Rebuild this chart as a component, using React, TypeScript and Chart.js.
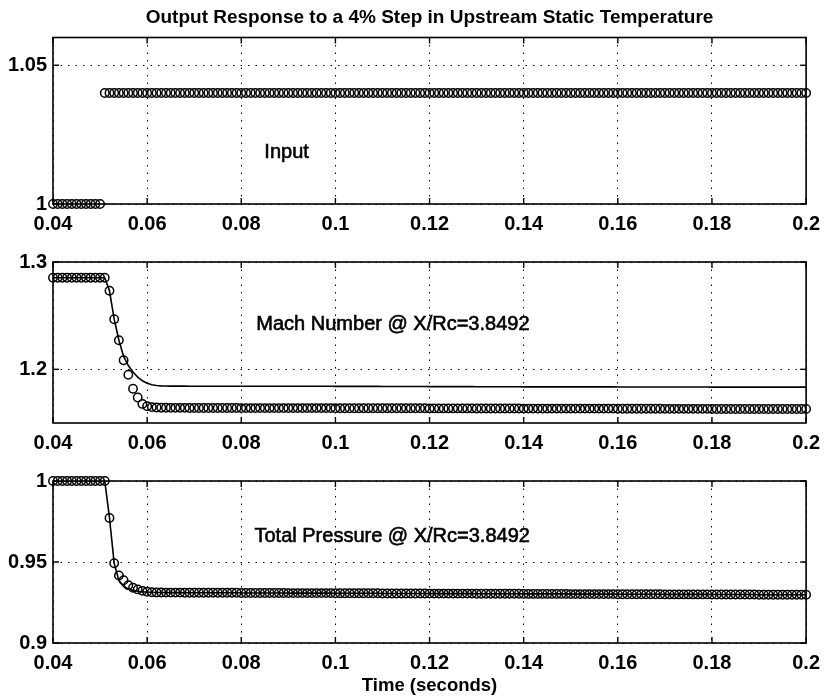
import React, { useEffect, useRef } from 'react';
import { Chart, registerables } from 'chart.js';

Chart.register(...registerables);

// ---------------- data ----------------
const time = [
  0.040, 0.041, 0.042, 0.043, 0.044, 0.045, 0.046, 0.047, 0.048, 0.049,
  0.050, 0.051, 0.052, 0.053, 0.054, 0.055, 0.056, 0.057, 0.058, 0.059,
  0.060, 0.061, 0.062, 0.063, 0.064, 0.065, 0.066, 0.067, 0.068, 0.069,
  0.070, 0.071, 0.072, 0.073, 0.074, 0.075, 0.076, 0.077, 0.078, 0.079,
  0.080, 0.081, 0.082, 0.083, 0.084, 0.085, 0.086, 0.087, 0.088, 0.089,
  0.090, 0.091, 0.092, 0.093, 0.094, 0.095, 0.096, 0.097, 0.098, 0.099,
  0.100, 0.101, 0.102, 0.103, 0.104, 0.105, 0.106, 0.107, 0.108, 0.109,
  0.110, 0.111, 0.112, 0.113, 0.114, 0.115, 0.116, 0.117, 0.118, 0.119,
  0.120, 0.121, 0.122, 0.123, 0.124, 0.125, 0.126, 0.127, 0.128, 0.129,
  0.130, 0.131, 0.132, 0.133, 0.134, 0.135, 0.136, 0.137, 0.138, 0.139,
  0.140, 0.141, 0.142, 0.143, 0.144, 0.145, 0.146, 0.147, 0.148, 0.149,
  0.150, 0.151, 0.152, 0.153, 0.154, 0.155, 0.156, 0.157, 0.158, 0.159,
  0.160, 0.161, 0.162, 0.163, 0.164, 0.165, 0.166, 0.167, 0.168, 0.169,
  0.170, 0.171, 0.172, 0.173, 0.174, 0.175, 0.176, 0.177, 0.178, 0.179,
  0.180, 0.181, 0.182, 0.183, 0.184, 0.185, 0.186, 0.187, 0.188, 0.189,
  0.190, 0.191, 0.192, 0.193, 0.194, 0.195, 0.196, 0.197, 0.198, 0.199,
  0.200,
];

const inputValues = [
  1, 1, 1, 1, 1, 1, 1, 1, 1, 1,
  1, 1.04, 1.04, 1.04, 1.04, 1.04, 1.04, 1.04, 1.04, 1.04,
  1.04, 1.04, 1.04, 1.04, 1.04, 1.04, 1.04, 1.04, 1.04, 1.04,
  1.04, 1.04, 1.04, 1.04, 1.04, 1.04, 1.04, 1.04, 1.04, 1.04,
  1.04, 1.04, 1.04, 1.04, 1.04, 1.04, 1.04, 1.04, 1.04, 1.04,
  1.04, 1.04, 1.04, 1.04, 1.04, 1.04, 1.04, 1.04, 1.04, 1.04,
  1.04, 1.04, 1.04, 1.04, 1.04, 1.04, 1.04, 1.04, 1.04, 1.04,
  1.04, 1.04, 1.04, 1.04, 1.04, 1.04, 1.04, 1.04, 1.04, 1.04,
  1.04, 1.04, 1.04, 1.04, 1.04, 1.04, 1.04, 1.04, 1.04, 1.04,
  1.04, 1.04, 1.04, 1.04, 1.04, 1.04, 1.04, 1.04, 1.04, 1.04,
  1.04, 1.04, 1.04, 1.04, 1.04, 1.04, 1.04, 1.04, 1.04, 1.04,
  1.04, 1.04, 1.04, 1.04, 1.04, 1.04, 1.04, 1.04, 1.04, 1.04,
  1.04, 1.04, 1.04, 1.04, 1.04, 1.04, 1.04, 1.04, 1.04, 1.04,
  1.04, 1.04, 1.04, 1.04, 1.04, 1.04, 1.04, 1.04, 1.04, 1.04,
  1.04, 1.04, 1.04, 1.04, 1.04, 1.04, 1.04, 1.04, 1.04, 1.04,
  1.04, 1.04, 1.04, 1.04, 1.04, 1.04, 1.04, 1.04, 1.04, 1.04,
  1.04,
];

const machCircles = [
  1.2853, 1.2853, 1.2853, 1.2853, 1.2853, 1.2853, 1.2853, 1.2853, 1.2853, 1.2853,
  1.2853, 1.2853, 1.2732, 1.2467, 1.2271, 1.2085, 1.1949, 1.1819, 1.1738, 1.1678,
  1.1657, 1.1648, 1.1644, 1.1642, 1.1642, 1.1641, 1.1641, 1.1641, 1.1641, 1.1640,
  1.1640, 1.1640, 1.1640, 1.1640, 1.1640, 1.1640, 1.1640, 1.1640, 1.1640, 1.1640,
  1.1639, 1.1639, 1.1639, 1.1639, 1.1639, 1.1639, 1.1639, 1.1639, 1.1639, 1.1639,
  1.1639, 1.1639, 1.1639, 1.1639, 1.1639, 1.1639, 1.1639, 1.1639, 1.1639, 1.1639,
  1.1638, 1.1638, 1.1638, 1.1638, 1.1638, 1.1638, 1.1638, 1.1638, 1.1638, 1.1638,
  1.1637, 1.1637, 1.1637, 1.1637, 1.1637, 1.1637, 1.1637, 1.1637, 1.1637, 1.1637,
  1.1636, 1.1636, 1.1636, 1.1636, 1.1636, 1.1636, 1.1636, 1.1636, 1.1636, 1.1636,
  1.1635, 1.1635, 1.1635, 1.1635, 1.1635, 1.1635, 1.1635, 1.1635, 1.1635, 1.1635,
  1.1634, 1.1634, 1.1634, 1.1634, 1.1634, 1.1634, 1.1634, 1.1634, 1.1634, 1.1634,
  1.1634, 1.1634, 1.1634, 1.1634, 1.1634, 1.1634, 1.1634, 1.1634, 1.1634, 1.1634,
  1.1633, 1.1633, 1.1633, 1.1633, 1.1633, 1.1633, 1.1633, 1.1633, 1.1633, 1.1633,
  1.1632, 1.1632, 1.1632, 1.1632, 1.1632, 1.1632, 1.1632, 1.1632, 1.1632, 1.1632,
  1.1631, 1.1631, 1.1631, 1.1631, 1.1631, 1.1631, 1.1631, 1.1631, 1.1631, 1.1631,
  1.1630, 1.1630, 1.1630, 1.1630, 1.1630, 1.1630, 1.1630, 1.1630, 1.1630, 1.1630,
  1.1630,
];

const machLine = [
  1.2853, 1.2853, 1.2853, 1.2853, 1.2853, 1.2853, 1.2853, 1.2853, 1.2853, 1.2853,
  1.2853, 1.2853, 1.2732, 1.2467, 1.2271, 1.2120, 1.2035, 1.1975, 1.1928, 1.1893,
  1.1870, 1.1856, 1.1849, 1.1846, 1.1845, 1.1844, 1.1844, 1.1844, 1.1844, 1.1843,
  1.1843, 1.1843, 1.1843, 1.1843, 1.1843, 1.1843, 1.1843, 1.1843, 1.1843, 1.1843,
  1.1842, 1.1842, 1.1842, 1.1842, 1.1842, 1.1842, 1.1842, 1.1842, 1.1842, 1.1842,
  1.1842, 1.1842, 1.1842, 1.1842, 1.1842, 1.1842, 1.1842, 1.1842, 1.1842, 1.1842,
  1.1841, 1.1841, 1.1841, 1.1841, 1.1841, 1.1841, 1.1841, 1.1841, 1.1841, 1.1841,
  1.1840, 1.1840, 1.1840, 1.1840, 1.1840, 1.1840, 1.1840, 1.1840, 1.1840, 1.1840,
  1.1839, 1.1839, 1.1839, 1.1839, 1.1839, 1.1839, 1.1839, 1.1839, 1.1839, 1.1839,
  1.1838, 1.1838, 1.1838, 1.1838, 1.1838, 1.1838, 1.1838, 1.1838, 1.1838, 1.1838,
  1.1837, 1.1837, 1.1837, 1.1837, 1.1837, 1.1837, 1.1837, 1.1837, 1.1837, 1.1837,
  1.1837, 1.1837, 1.1837, 1.1837, 1.1837, 1.1837, 1.1837, 1.1837, 1.1837, 1.1837,
  1.1836, 1.1836, 1.1836, 1.1836, 1.1836, 1.1836, 1.1836, 1.1836, 1.1836, 1.1836,
  1.1835, 1.1835, 1.1835, 1.1835, 1.1835, 1.1835, 1.1835, 1.1835, 1.1835, 1.1835,
  1.1834, 1.1834, 1.1834, 1.1834, 1.1834, 1.1834, 1.1834, 1.1834, 1.1834, 1.1834,
  1.1834, 1.1834, 1.1834, 1.1834, 1.1834, 1.1834, 1.1834, 1.1834, 1.1834, 1.1834,
  1.1834,
];

const pressureCircles = [
  1, 1, 1, 1, 1, 1, 1, 1, 1, 1,
  1, 1, 0.9772, 0.9492, 0.9417, 0.9387, 0.9357, 0.9341, 0.9331, 0.9322,
  0.9316, 0.9313, 0.9312, 0.9312, 0.9311, 0.9311, 0.9311, 0.9311, 0.9310, 0.9310,
  0.9310, 0.9310, 0.9310, 0.9310, 0.9310, 0.9310, 0.9310, 0.9310, 0.9310, 0.9310,
  0.9309, 0.9309, 0.9309, 0.9309, 0.9309, 0.9309, 0.9309, 0.9309, 0.9309, 0.9309,
  0.9308, 0.9308, 0.9308, 0.9308, 0.9308, 0.9308, 0.9308, 0.9308, 0.9308, 0.9308,
  0.9307, 0.9307, 0.9307, 0.9307, 0.9307, 0.9307, 0.9307, 0.9307, 0.9307, 0.9307,
  0.9306, 0.9306, 0.9306, 0.9306, 0.9306, 0.9306, 0.9306, 0.9306, 0.9306, 0.9306,
  0.9305, 0.9305, 0.9305, 0.9305, 0.9305, 0.9305, 0.9305, 0.9305, 0.9305, 0.9305,
  0.9304, 0.9304, 0.9304, 0.9304, 0.9304, 0.9304, 0.9304, 0.9304, 0.9304, 0.9304,
  0.9303, 0.9303, 0.9303, 0.9303, 0.9303, 0.9303, 0.9303, 0.9303, 0.9303, 0.9303,
  0.9302, 0.9302, 0.9302, 0.9302, 0.9302, 0.9302, 0.9302, 0.9302, 0.9302, 0.9302,
  0.9301, 0.9301, 0.9301, 0.9301, 0.9301, 0.9301, 0.9301, 0.9301, 0.9301, 0.9301,
  0.9300, 0.9300, 0.9300, 0.9300, 0.9300, 0.9300, 0.9300, 0.9300, 0.9300, 0.9300,
  0.9299, 0.9299, 0.9299, 0.9299, 0.9299, 0.9299, 0.9299, 0.9299, 0.9299, 0.9299,
  0.9298, 0.9298, 0.9298, 0.9298, 0.9298, 0.9298, 0.9298, 0.9298, 0.9298, 0.9298,
  0.9298,
];

const pressureLine = [
  1, 1, 1, 1, 1, 1, 1, 1, 1, 1,
  1, 1, 0.9772, 0.9492, 0.9385, 0.9350, 0.9334, 0.9325, 0.9319, 0.9316,
  0.9314, 0.9313, 0.9312, 0.9312, 0.9311, 0.9311, 0.9311, 0.9311, 0.9310, 0.9310,
  0.9310, 0.9310, 0.9310, 0.9310, 0.9310, 0.9310, 0.9310, 0.9310, 0.9310, 0.9310,
  0.9309, 0.9309, 0.9309, 0.9309, 0.9309, 0.9309, 0.9309, 0.9309, 0.9309, 0.9309,
  0.9308, 0.9308, 0.9308, 0.9308, 0.9308, 0.9308, 0.9308, 0.9308, 0.9308, 0.9308,
  0.9307, 0.9307, 0.9307, 0.9307, 0.9307, 0.9307, 0.9307, 0.9307, 0.9307, 0.9307,
  0.9306, 0.9306, 0.9306, 0.9306, 0.9306, 0.9306, 0.9306, 0.9306, 0.9306, 0.9306,
  0.9305, 0.9305, 0.9305, 0.9305, 0.9305, 0.9305, 0.9305, 0.9305, 0.9305, 0.9305,
  0.9304, 0.9304, 0.9304, 0.9304, 0.9304, 0.9304, 0.9304, 0.9304, 0.9304, 0.9304,
  0.9303, 0.9303, 0.9303, 0.9303, 0.9303, 0.9303, 0.9303, 0.9303, 0.9303, 0.9303,
  0.9302, 0.9302, 0.9302, 0.9302, 0.9302, 0.9302, 0.9302, 0.9302, 0.9302, 0.9302,
  0.9301, 0.9301, 0.9301, 0.9301, 0.9301, 0.9301, 0.9301, 0.9301, 0.9301, 0.9301,
  0.9300, 0.9300, 0.9300, 0.9300, 0.9300, 0.9300, 0.9300, 0.9300, 0.9300, 0.9300,
  0.9299, 0.9299, 0.9299, 0.9299, 0.9299, 0.9299, 0.9299, 0.9299, 0.9299, 0.9299,
  0.9298, 0.9298, 0.9298, 0.9298, 0.9298, 0.9298, 0.9298, 0.9298, 0.9298, 0.9298,
  0.9298,
];

const xTicks = [0.04, 0.06, 0.08, 0.1, 0.12, 0.14, 0.16, 0.18, 0.2];
const xTickLabels = ['0.04', '0.06', '0.08', '0.1', '0.12', '0.14', '0.16', '0.18', '0.2'];

const inputTicks = [1, 1.05];
const inputTickLabels = ['1', '1.05'];
const machTicks = [1.2, 1.3];
const machTickLabels = ['1.2', '1.3'];
const pressureTicks = [0.9, 0.95, 1];
const pressureTickLabels = ['0.9', '0.95', '1'];

const chartTitle = 'Output Response to a 4% Step in Upstream Static Temperature';
const xAxisTitle = 'Time (seconds)';
const inputLabel = 'Input';
const machLabel = 'Mach Number @ X/Rc=3.8492';
const pressureLabel = 'Total Pressure @ X/Rc=3.8492';

// ---------------- styling / helpers ----------------
const FONT = "'Liberation Sans', Arial, Helvetica, sans-serif";
const W = 828;

const framePlugin = {
  id: 'frame',
  afterDatasetsDraw(chart: any, _args: any, opts: any) {
    const { ctx, chartArea: a, scales } = chart;
    const xs = scales.x;
    const ys = scales.y;
    ctx.save();
    ctx.strokeStyle = '#000';
    ctx.lineWidth = 1.6;
    ctx.setLineDash([]);
    ctx.strokeRect(a.left, a.top, a.right - a.left, a.bottom - a.top);
    ctx.lineWidth = 1.4;
    const L = 6;
    const seg = (x1: number, y1: number, x2: number, y2: number) => {
      ctx.beginPath();
      ctx.moveTo(x1, y1);
      ctx.lineTo(x2, y2);
      ctx.stroke();
    };
    xs.ticks.forEach((t: any) => {
      const px = xs.getPixelForValue(t.value);
      seg(px, a.bottom, px, a.bottom - L);
      seg(px, a.top, px, a.top + L);
    });
    ys.ticks.forEach((t: any) => {
      const py = ys.getPixelForValue(t.value);
      seg(a.left, py, a.left + L, py);
      seg(a.right, py, a.right - L, py);
    });
    if (opts && opts.text) {
      const tx = xs.getPixelForValue(opts.x);
      const ty = ys.getPixelForValue(opts.y);
      ctx.font = `20px ${FONT}`;
      ctx.fillStyle = '#000';
      ctx.strokeStyle = '#000';
      ctx.lineWidth = 0.6;
      ctx.textAlign = 'left';
      ctx.textBaseline = 'middle';
      ctx.fillText(opts.text, tx, ty);
      ctx.strokeText(opts.text, tx, ty);
    }
    ctx.restore();
  },
};

const toXY = (vals: number[]) => time.map((t, i) => ({ x: t, y: vals[i] }));

const circleDataset = (vals: number[]) => ({
  data: toXY(vals),
  showLine: false,
  pointStyle: 'circle',
  pointRadius: 4.2,
  pointBorderWidth: 1.5,
  pointBorderColor: '#000',
  pointBackgroundColor: 'rgba(0,0,0,0)',
  borderColor: '#000',
  clip: false,
});

const lineDataset = (vals: number[]) => ({
  data: toXY(vals),
  showLine: true,
  pointRadius: 0,
  borderColor: '#000',
  borderWidth: 1.6,
  tension: 0,
  fill: false,
});

interface PanelSpec {
  height: number;
  padTop: number;
  xAxisHeight: number;
  yMin: number;
  yMax: number;
  yTicks: number[];
  yTickLabels: string[];
  datasets: any[];
  label: { text: string; x: number; y: number };
  showTitle?: boolean;
  showXTitle?: boolean;
}

function buildConfig(p: PanelSpec): any {
  return {
    type: 'line',
    data: { datasets: p.datasets },
    plugins: [framePlugin],
    options: {
      animation: false,
      responsive: false,
      devicePixelRatio: 1,
      layout: { padding: { top: p.padTop, right: 20, bottom: 0, left: 0 } },
      plugins: {
        legend: { display: false },
        tooltip: { enabled: false },
        title: {
          display: !!p.showTitle,
          text: chartTitle,
          color: '#000',
          fullSize: false,
          font: { family: FONT, size: 19, weight: 'bold', lineHeight: 1.2 },
          padding: { top: 6, bottom: 8.7 },
        },
        frame: p.label,
      },
      scales: {
        x: {
          type: 'linear',
          min: 0.04,
          max: 0.2,
          afterBuildTicks: (s: any) => {
            s.ticks = xTicks.map((v) => ({ value: v }));
          },
          afterFit: (s: any) => {
            s.height = p.xAxisHeight;
          },
          ticks: {
            autoSkip: false,
            maxRotation: 0,
            padding: 8,
            color: '#000',
            font: { family: FONT, size: 20, weight: 'bold', lineHeight: 1.2 },
            callback: (_v: any, i: number) => xTickLabels[i],
          },
          grid: { color: '#000', lineWidth: 1, drawTicks: false },
          border: { display: false, dash: [1.5, 6] },
          title: {
            display: !!p.showXTitle,
            text: xAxisTitle,
            color: '#000',
            font: { family: FONT, size: 18.5, weight: 'bold', lineHeight: 1.2 },
            padding: { top: 0, bottom: 2 },
          },
        },
        y: {
          type: 'linear',
          min: p.yMin,
          max: p.yMax,
          afterBuildTicks: (s: any) => {
            s.ticks = p.yTicks.map((v) => ({ value: v }));
          },
          afterFit: (s: any) => {
            s.width = 53;
          },
          ticks: {
            autoSkip: false,
            padding: 6,
            color: '#000',
            font: { family: FONT, size: 20, weight: 'bold', lineHeight: 1.2 },
            callback: (_v: any, i: number) => p.yTickLabels[i],
          },
          grid: { color: '#000', lineWidth: 1, drawTicks: false },
          border: { display: false, dash: [1.5, 6] },
        },
      },
    },
  };
}

function Panel({ top, spec }: { top: number; spec: PanelSpec }) {
  const ref = useRef<HTMLCanvasElement | null>(null);
  useEffect(() => {
    if (!ref.current) return;
    const chart = new Chart(ref.current, buildConfig(spec));
    return () => chart.destroy();
  }, []);
  return (
    <canvas
      ref={ref}
      width={W}
      height={spec.height}
      style={{ position: 'absolute', left: 0, top, width: W, height: spec.height }}
    />
  );
}

const panel1: PanelSpec = {
  height: 244,
  padTop: 0,
  xAxisHeight: 40,
  yMin: 1,
  yMax: 1.06,
  yTicks: inputTicks,
  yTickLabels: inputTickLabels,
  datasets: [circleDataset(inputValues)],
  label: { text: inputLabel, x: 0.0849, y: 1.0186 },
  showTitle: true,
};

const panel2: PanelSpec = {
  height: 219,
  padTop: 13.5,
  xAxisHeight: 40,
  yMin: 1.15,
  yMax: 1.3,
  yTicks: machTicks,
  yTickLabels: machTickLabels,
  datasets: [lineDataset(machLine), circleDataset(machCircles)],
  label: { text: machLabel, x: 0.0832, y: 1.2415 },
};

const panel3: PanelSpec = {
  height: 236,
  padTop: 14.5,
  xAxisHeight: 56,
  yMin: 0.9,
  yMax: 1.0,
  yTicks: pressureTicks,
  yTickLabels: pressureTickLabels,
  datasets: [lineDataset(pressureLine), circleDataset(pressureCircles)],
  label: { text: pressureLabel, x: 0.0828, y: 0.9659 },
  showXTitle: true,
};

export default function App() {
  return (
    <div
      style={{
        position: 'absolute',
        left: 0,
        top: 0,
        width: W,
        height: 699,
        background: '#fff',
        overflow: 'hidden',
      }}
    >
      <Panel top={0} spec={panel1} />
      <Panel top={244} spec={panel2} />
      <Panel top={463} spec={panel3} />
    </div>
  );
}
